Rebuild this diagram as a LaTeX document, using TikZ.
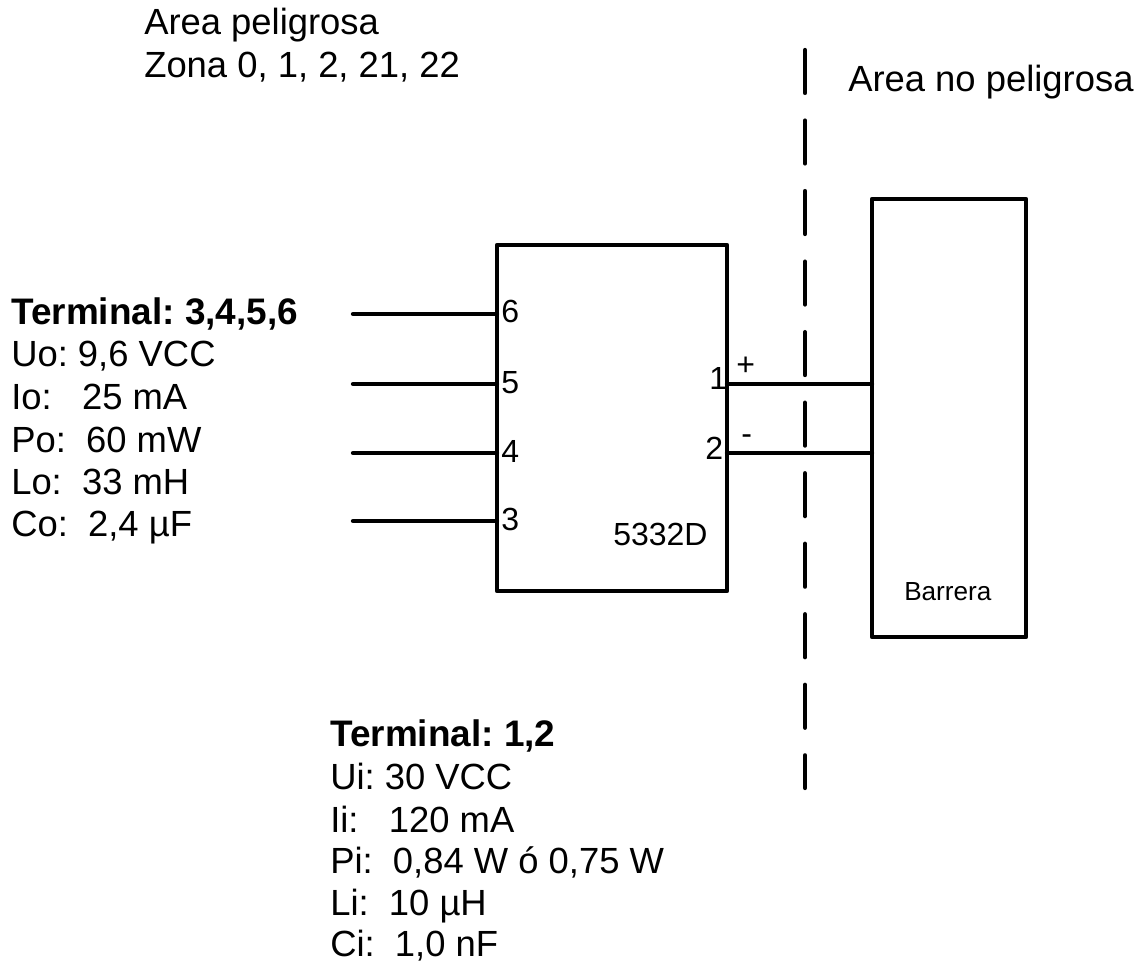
\documentclass[tikz,border=0pt]{standalone}
\usepackage{fontspec}
\setmainfont{Liberation Sans}
\frenchspacing
\tikzset{
    wire/.style={line width=3.2pt, line cap=round},
    divider/.style={line width=3.2pt, line cap=round, dash pattern=on 32.2pt off 20.7pt},
    box/.style={draw, line width=3.5pt, line join=round, anchor=north west, inner sep=0pt, outer sep=0pt},
    txt/.style={anchor=base west, inner sep=0pt, font=\fontsize{27.3}{27.3}\selectfont},
    boldtxt/.style={anchor=base west, inner sep=0pt, font=\fontsize{27.7}{27.7}\selectfont\bfseries},
    pin/.style={anchor=base west, inner sep=0pt, font=\fontsize{24}{24}\selectfont},
    small/.style={anchor=base west, inner sep=0pt, font=\fontsize{19.6}{19.6}\selectfont},
}
\begin{document}
\begin{tikzpicture}[x=0.75pt, y=-0.75pt]
    \useasboundingbox (0,0) rectangle (1147,962);
    % labels at the top
    \node[txt] (hazard) at (144,35){Area peligrosa};
    \node[txt] (zones) at (144,78){Zona 0, 1, 2, 21, 22};
    \node[txt] (safe) at (848,92){Area no peligrosa};
    % divider
    \coordinate (divtop) at (805,50);
    \coordinate (divbot) at (805,788);
    \draw[divider] (divtop) -- (divbot);
    % module and barrier
    \node[box, minimum width=172.5pt, minimum height=259.5pt] (module) at (497,245){};
    \node[box, minimum width=115.5pt, minimum height=328.5pt] (barrier) at (872,199){};
    \node[pin] (modname) at (613,546){5332D};
    \node[small] (barname) at (904,600){Barrera};
    % field wires
    \coordinate (w6) at (353,314);
    \coordinate (w5) at (353,384);
    \coordinate (w4) at (353,453);
    \coordinate (w3) at (353,521);
    \draw[wire] (w6) -- (w6 -| module.west);
    \draw[wire] (w5) -- (w5 -| module.west);
    \draw[wire] (w4) -- (w4 -| module.west);
    \draw[wire] (w3) -- (w3 -| module.west);
    \node[pin] (p6) at (501,323){6};
    \node[pin] (p5) at (501,394){5};
    \node[pin] (p4) at (501,463){4};
    \node[pin] (p3) at (501,531){3};
    % loop wires
    \coordinate (w1) at (module.east |- 0,384);
    \coordinate (w2) at (module.east |- 0,453);
    \draw[wire] (w1) -- (w1 -| barrier.west);
    \draw[wire] (w2) -- (w2 -| barrier.west);
    \node[pin] (p1) at (709,390){1};
    \node[pin] (p2) at (705,460){2};
    \node[pin] (plus) at (736,376){+};
    \node[pin] (minus) at (741,445){-};
    % terminal data
    \node[boldtxt] (t3456) at (11,325){Terminal: 3,4,5,6};
    \node[txt] (uo) at (11,367){Uo: 9,6 VCC};
    \node[txt] (io) at (11,410){Io:\ \ \ 25 mA};
    \node[txt] (po) at (11,453){Po:\ \ 60 mW};
    \node[txt] (lo) at (11,495){Lo:\ \ 33 mH};
    \node[txt] (co) at (11,537){Co:\ \ 2,4 µF};
    \node[boldtxt] (t12) at (330,746){Terminal: 1,2};
    \node[txt] (ui) at (330,789){Ui: 30 VCC};
    \node[txt] (ii) at (330,832){Ii:\ \ \ 120 mA};
    \node[txt] (pi) at (330,873){Pi:\ \ 0,84 W ó 0,75 W};
    \node[txt] (li) at (330,915){Li:\ \ 10 µH};
    \node[txt] (ci) at (330,956){Ci:\ \ 1,0 nF};
\end{tikzpicture}
\end{document}
